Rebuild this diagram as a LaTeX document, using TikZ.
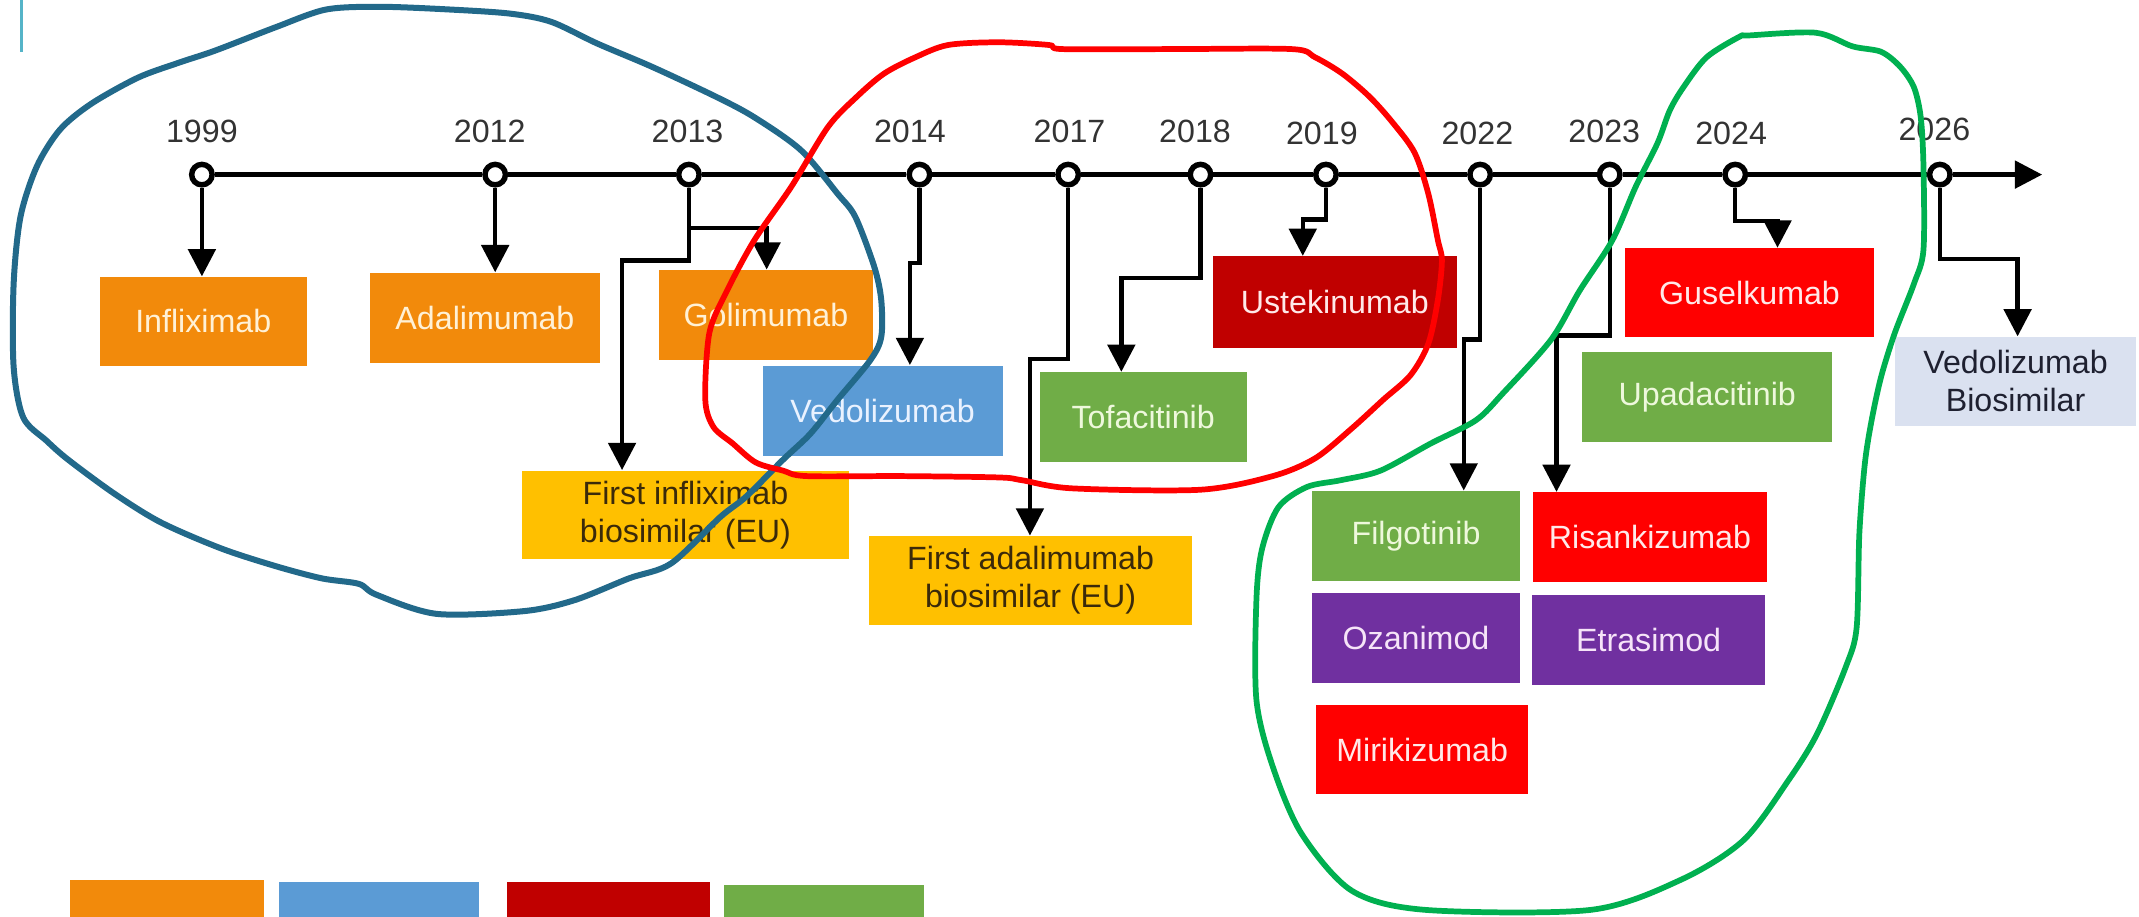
\documentclass[tikz,border=0pt]{standalone}
\usepackage{fontspec}
\setmainfont{Liberation Sans}
\usetikzlibrary{arrows.meta,calc}
\definecolor{cOrange}{HTML}{F28A0B}
\definecolor{cBlue}{HTML}{5B9BD5}
\definecolor{cDarkRed}{HTML}{C00000}
\definecolor{cGreen}{HTML}{70AD47}
\definecolor{cYellow}{HTML}{FFC000}
\definecolor{cRed}{HTML}{FF0000}
\definecolor{cPurple}{HTML}{7030A0}
\definecolor{cLav}{HTML}{DAE1F0}
\definecolor{tOrange}{HTML}{FFF1D6}
\definecolor{tBlue}{HTML}{EAF2FF}
\definecolor{tGreen}{HTML}{EEF8DC}
\definecolor{tRed}{HTML}{FFE9E9}
\definecolor{tPurple}{HTML}{F6E4F8}
\definecolor{tYellow}{HTML}{3B2A0A}
\definecolor{tLav}{HTML}{1E2030}
\definecolor{yeargray}{HTML}{333333}
\definecolor{loopBlue}{HTML}{22698A}
\definecolor{loopRed}{HTML}{FF0000}
\definecolor{loopGreen}{HTML}{00B050}
\definecolor{barTeal}{HTML}{55B4C8}
\begin{document}
\begin{tikzpicture}[x=0.5pt,y=-0.5pt,
  box/.style={draw=none, inner sep=0pt, align=center, font=\fontsize{11.8}{14}\selectfont},
  yearlbl/.style={font=\fontsize{11.8}{13}\selectfont, text=yeargray, inner sep=0pt},
  tick/.style={circle, draw=black, fill=white, line width=2pt, minimum size=7.5pt, inner sep=0pt},
  tl/.style={line width=1.6pt},
  conn/.style={line width=1.6pt, -{Triangle[length=10pt,width=10pt]}},
  legendbox/.style={draw=none, inner sep=0pt, anchor=north west, minimum height=30pt},
  loopline/.style={line width=2.1pt, line join=round, line cap=round}]
\clip (0,0) rectangle (1568,672);
\useasboundingbox (0,0) rectangle (1568,672);

% teal bar
\draw[barTeal, line width=1.2pt] (16,0) -- (16,38);

% year labels
\node[yearlbl] (l1999) at (148,96) {1999};
\node[yearlbl] (l2012) at (359,96) {2012};
\node[yearlbl] (l2013) at (504,96) {2013};
\node[yearlbl] (l2014) at (667,96) {2014};
\node[yearlbl] (l2017) at (784,96) {2017};
\node[yearlbl] (l2018) at (876,96) {2018};
\node[yearlbl] (l2019) at (969,98) {2019};
\node[yearlbl] (l2022) at (1083,98) {2022};
\node[yearlbl] (l2023) at (1176,96) {2023};
\node[yearlbl] (l2024) at (1269,98) {2024};
\node[yearlbl] (l2026) at (1418,95) {2026};

% ticks
\node[tick] (t1999) at (148,128) {};
\node[tick] (t2012) at (363,128) {};
\node[tick] (t2013) at (505,128) {};
\node[tick] (t2014) at (674,128) {};
\node[tick] (t2017) at (783,128) {};
\node[tick] (t2018) at (880,128) {};
\node[tick] (t2019) at (972,128) {};
\node[tick] (t2022) at (1085,128) {};
\node[tick] (t2023) at (1180,128) {};
\node[tick] (t2024) at (1272,128) {};
\node[tick] (t2026) at (1422,128) {};
\coordinate (tlend) at (1497,128);

\draw[tl] (t1999) -- (t2012) -- (t2013) -- (t2014) -- (t2017) -- (t2018) -- (t2019)
  -- (t2022) -- (t2023) -- (t2024) -- (t2026);
\draw[conn] (t2026) -- (tlend);

% boxes
\node[box, fill=cOrange, text=tOrange, minimum width=76pt, minimum height=32.5pt] (inf) at (149,235.5) {Infliximab};
\node[box, fill=cOrange, text=tOrange, minimum width=84.5pt, minimum height=33pt] (ada) at (355.5,233) {Adalimumab};
\node[box, fill=cOrange, text=tOrange, minimum width=78.5pt, minimum height=33pt] (gol) at (561.5,231) {Golimumab};
\node[box, fill=cBlue, text=tBlue, minimum width=88pt, minimum height=33pt] (vedo) at (647,301) {Vedolizumab};
\node[box, fill=cGreen, text=tGreen, minimum width=76pt, minimum height=33pt] (tofa) at (838,306) {Tofacitinib};
\node[box, fill=cDarkRed, text=tRed, minimum width=89.5pt, minimum height=33.5pt] (uste) at (978.5,221.5) {Ustekinumab};
\node[box, fill=cYellow, text=tYellow, minimum width=119.5pt, minimum height=32.5pt] (infbio) at (502.5,377.5) {First infliximab\\biosimilar (EU)};
\node[box, fill=cYellow, text=tYellow, minimum width=118.5pt, minimum height=32.5pt] (adabio) at (755.5,425.5) {First adalimumab\\biosimilar (EU)};
\node[box, fill=cRed, text=tRed, minimum width=91.5pt, minimum height=32.5pt] (gus) at (1282.5,214.5) {Guselkumab};
\node[box, fill=cGreen, text=tGreen, minimum width=91.5pt, minimum height=33pt] (upa) at (1251.5,291) {Upadacitinib};
\node[box, fill=cLav, text=tLav, minimum width=88.5pt, minimum height=32.5pt] (vbio) at (1477.5,279.5) {Vedolizumab\\Biosimilar};
\node[box, fill=cGreen, text=tGreen, minimum width=76pt, minimum height=33pt] (filg) at (1038,393) {Filgotinib};
\node[box, fill=cRed, text=tRed, minimum width=85.5pt, minimum height=33pt] (risa) at (1209.5,394) {Risankizumab};
\node[box, fill=cPurple, text=tPurple, minimum width=76pt, minimum height=33pt] (oza) at (1038,468) {Ozanimod};
\node[box, fill=cPurple, text=tPurple, minimum width=85.5pt, minimum height=33pt] (etra) at (1208.5,469) {Etrasimod};
\node[box, fill=cRed, text=tRed, minimum width=77.5pt, minimum height=32.5pt] (miri) at (1042.5,549.5) {Mirikizumab};

% legend boxes (cut off at bottom)
\node[legendbox, fill=cOrange, minimum width=71pt] (lg1) at (51,645) {};
\node[legendbox, fill=cBlue, minimum width=73.5pt] (lg2) at (204,646) {};
\node[legendbox, fill=cDarkRed, minimum width=74.5pt] (lg3) at (371,646.5) {};
\node[legendbox, fill=cGreen, minimum width=73.5pt] (lg4) at (530,648) {};

% connectors
\draw[conn] (t1999.south) -- (t1999.south |- inf.north);
\draw[conn] (t2012.south) -- (t2012.south |- ada.north);
\coordinate (j13a) at (505,167);
\coordinate (j13b) at (505,191);
\coordinate (j13c) at (456,191);
\coordinate (j13d) at (562,167);
\draw[conn] (t2013.south) -- (j13b) -- (j13c) -- (j13c |- infbio.north);
\draw[conn] (j13a) -- (j13d) -- (j13d |- gol.north);
\coordinate (j14) at (667,193);
\draw[conn] (t2014.south) |- (j14) -- (j14 |- vedo.north);
\coordinate (j17) at (755,263);
\draw[conn] (t2017.south) |- (j17) -- (j17 |- adabio.north);
\coordinate (j18) at (822,204);
\draw[conn] (t2018.south) |- (j18) -- (j18 |- tofa.north);
\coordinate (j19) at (955,161);
\draw[conn] (t2019.south) |- (j19) -- (j19 |- uste.north);
\coordinate (j22) at (1073,249);
\draw[conn] (t2022.south) |- (j22) -- (j22 |- filg.north);
\coordinate (j23) at (1141,246);
\draw[conn] (t2023.south) |- (j23) -- (j23 |- risa.north);
\coordinate (j24) at (1303,162);
\draw[conn] (t2024.south) |- (j24) -- (j24 |- gus.north);
\coordinate (j26) at (1479,190);
\draw[conn] (t2026.south) |- (j26) -- (j26 |- vbio.north);

% hand-drawn loops
\draw[loopline, loopBlue, line width=2.2pt] plot[smooth cycle, tension=0.5] coordinates {
 (279,5) (239,7) (202,20) (158,37) (131,46) (101,57) (67,76) (44,95) (27,122) (15,159)
 (10,208) (10,269) (17,306) (34,323) (50,337) (84,362) (118,383) (162,402) (202,415)
 (236,424) (263,428) (276,436) (320,450) (384,448) (421,440) (461,424) (492,413)
 (528,379) (547,364) (574,337) (594,318) (614,293) (638,264) (646,247) (646,220)
 (641,196) (627,159) (614,142) (587,110) (553,86) (525,71) (478,49) (438,32) (404,16)
 (374,10) (330,7)};
\draw[loopline, loopRed] plot[smooth cycle, tension=0.5] coordinates {
 (517,293) (520,244) (533,213) (553,176) (580,137) (607,93) (628,71) (648,54) (671,42)
 (695,33) (732,31) (769,33) (779,36) (860,36) (947,36) (964,42) (984,54) (1004,71)
 (1021,90) (1037,112) (1047,142) (1054,176) (1057,191) (1054,220) (1047,252)
 (1034,275) (1014,293) (991,314) (964,336) (933,349) (880,359) (786,358) (749,352)
 (732,350) (660,349) (591,349) (574,345) (554,339) (537,325) (523,313)};
\draw[loopline, loopGreen] plot[smooth cycle, tension=0.5] coordinates {
 (1282,26) (1331,24) (1358,34) (1379,38) (1393,49) (1403,64) (1408,86) (1410,122)
 (1410,183) (1403,208) (1389,244) (1379,276) (1372,308) (1367,340) (1363,391)
 (1361,460) (1353,489) (1332,538) (1311,572) (1278,616) (1232,645) (1166,667)
 (1045,667) (991,653) (954,611) (933,562) (921,513) (921,440) (925,403) (937,372)
 (958,357) (983,352) (1012,345) (1049,325) (1082,308) (1102,288) (1137,249)
 (1158,213) (1182,176) (1199,137) (1215,105) (1224,81) (1234,64) (1251,42) (1275,27)};
\end{tikzpicture}
\end{document}
